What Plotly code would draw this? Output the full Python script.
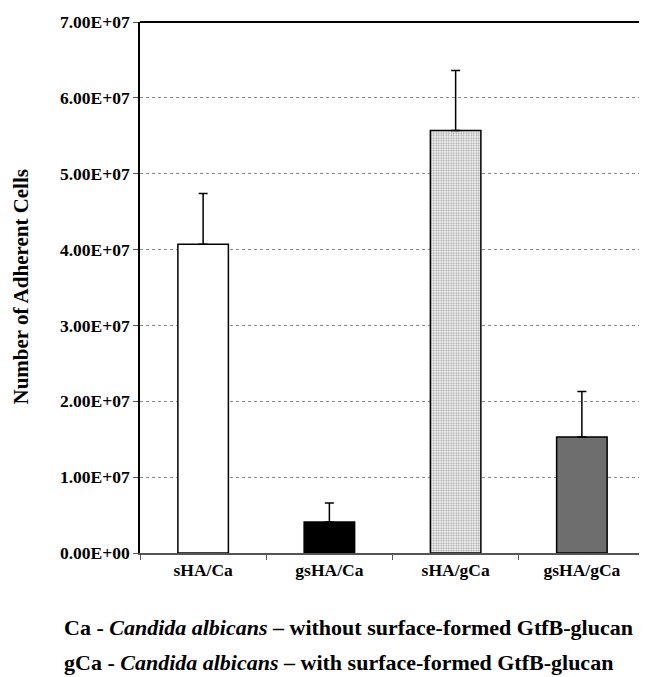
import plotly.graph_objects as go

categories = ["sHA/Ca", "gsHA/Ca", "sHA/gCa", "gsHA/gCa"]
values = [4.07e7, 0.41e7, 5.57e7, 1.53e7]
errors = [0.67e7, 0.25e7, 0.79e7, 0.60e7]
y_ticks = [0, 1e7, 2e7, 3e7, 4e7, 5e7, 6e7, 7e7]
y_tick_labels = [f"{v:.2E}" for v in y_ticks]

fills = ["white", "black", "white", "#6e6e6e"]
patterns = ["", "", ".", ""]

FONT = "Liberation Serif, Times New Roman, serif"

fig = go.Figure()
fig.add_trace(go.Bar(
    x=categories, y=values, width=0.4,
    marker=dict(color=fills, line=dict(color="black", width=1.5),
                pattern=dict(shape=patterns, fgcolor="#8a8a8a", bgcolor="white",
                             size=2.5, solidity=0.45)),
    error_y=dict(type="data", symmetric=False, array=errors,
                 arrayminus=[0] * len(errors), color="black",
                 thickness=1.5, width=4.5),
    showlegend=False,
))

fig.update_layout(
    width=639, height=669,
    margin=dict(l=132, r=2, t=14, b=124),
    paper_bgcolor="white", plot_bgcolor="white",
    font=dict(family=FONT, color="black"),
    xaxis=dict(
        range=[-0.5, 3.5], tickson="boundaries", ticks="outside", ticklen=5,
        tickcolor="#555", showline=True, linecolor="#555", linewidth=1.5,
        tickfont=dict(size=17.5, family=FONT, weight="bold"),
        showgrid=False, zeroline=False,
    ),
    yaxis=dict(
        range=[0, 7e7], tickvals=y_ticks, ticktext=y_tick_labels,
        ticks="outside", ticklen=5, tickcolor="#555",
        showline=True, linecolor="black", linewidth=1.5,
        showgrid=True, gridcolor="#888", griddash="dot", gridwidth=1,
        zeroline=False,
        tickfont=dict(size=17.5, family=FONT, weight="bold"),
    ),
)

# top border line of the plot area
fig.add_shape(type="line", xref="paper", yref="paper", x0=0, x1=1, y0=1, y1=1,
              line=dict(color="black", width=2))

fig.add_annotation(
    text="Number of Adherent Cells", textangle=-90,
    xref="paper", yref="paper", x=-0.2376, y=0.5, xanchor="center", yanchor="middle",
    showarrow=False, font=dict(size=21, family=FONT, weight="bold"))

fig.add_annotation(
    text="Ca - <i>Candida albicans</i> \u2013 without surface-formed GtfB-glucan",
    xref="paper", yref="paper", x=-0.1545, y=-0.1412, xanchor="left", yanchor="middle",
    showarrow=False, font=dict(size=22, family=FONT, weight="bold"))
fig.add_annotation(
    text="gCa - <i>Candida albicans</i> \u2013 with surface-formed GtfB-glucan",
    xref="paper", yref="paper", x=-0.1545, y=-0.2053, xanchor="left", yanchor="middle",
    showarrow=False, font=dict(size=22, family=FONT, weight="bold"))

fig.write_html("out.html")
